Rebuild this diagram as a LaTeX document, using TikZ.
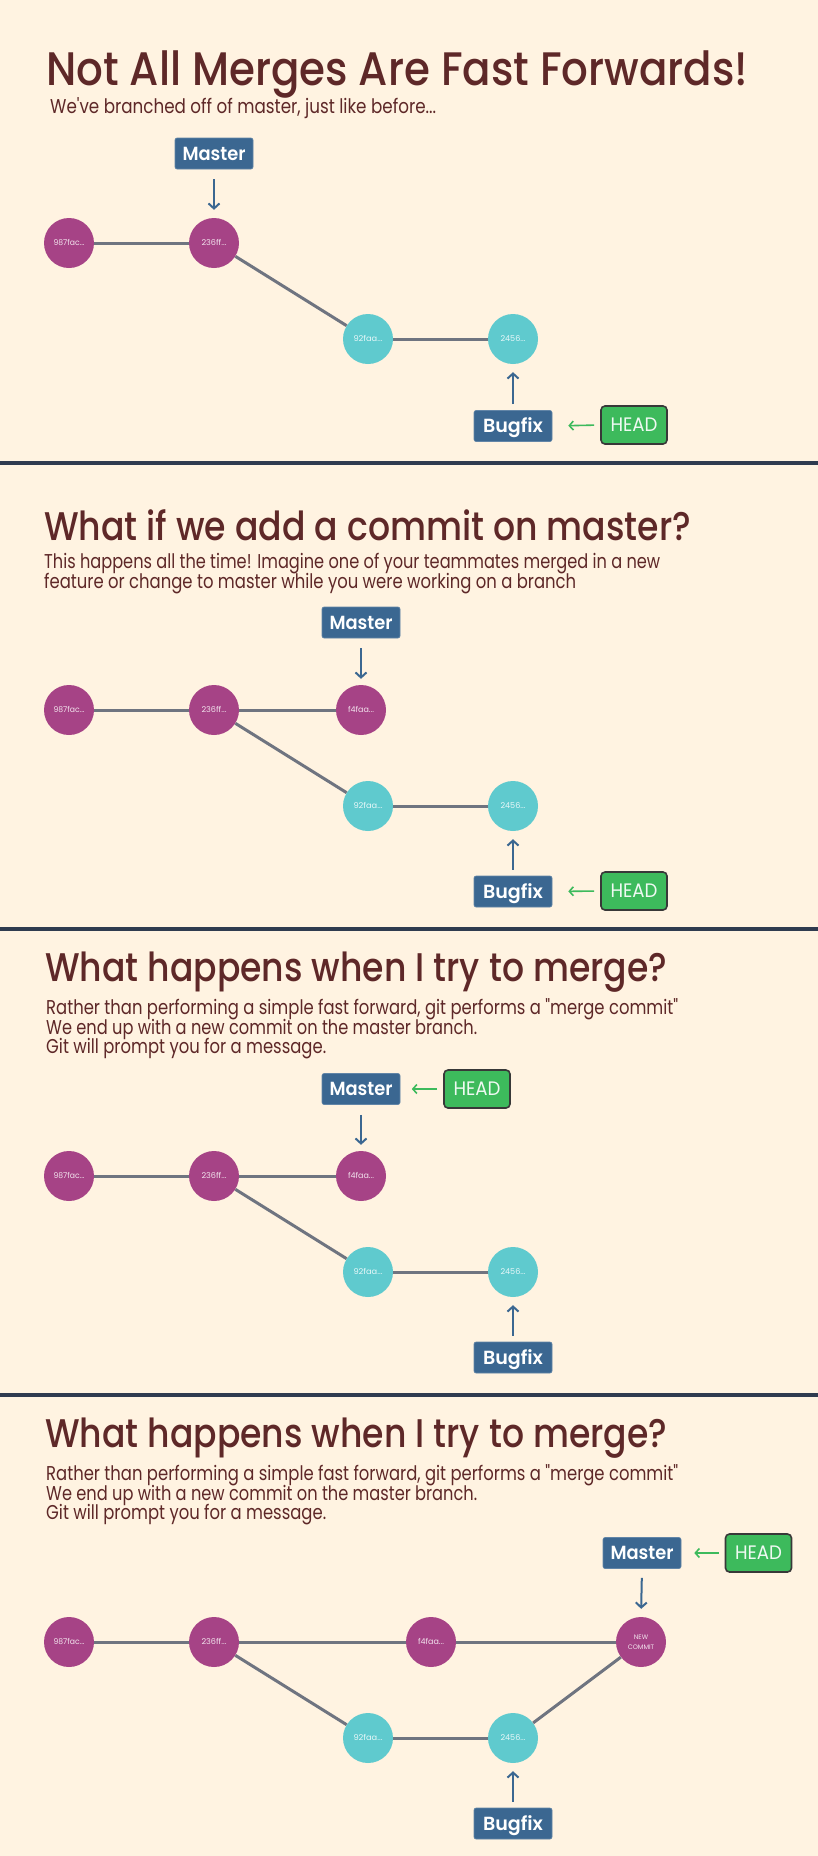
\documentclass[tikz,border=0pt]{standalone}
\usepackage{fontspec}
\setmainfont{Poppins}[Ligatures=TeXOff]
\newfontfamily\pmed{Poppins Medium}
\newfontfamily\psemi{Poppins SemiBold}
\usetikzlibrary{arrows.meta}
\definecolor{bg}{HTML}{FFF3E1}
\definecolor{txtbrown}{HTML}{5E2828}
\definecolor{pcol}{HTML}{A64386}
\definecolor{ccol}{HTML}{5FCACE}
\definecolor{ecol}{HTML}{6F7480}
\definecolor{bcol}{HTML}{3B6791}
\definecolor{gcol}{HTML}{3DBA5C}
\definecolor{sepcol}{HTML}{2F3B4F}
\newlength\fitlen
\newcommand\fitw[3]{\settowidth\fitlen{#2#3}\pgfmathsetmacro\fitr{#1/\fitlen}\scalebox{\fitr}[1]{#2#3}}
\newcommand\ttlfont{\pmed\fontsize{40}{40}\selectfont}
\newcommand\bodyfont{\fontsize{20}{20}\selectfont}
\newcommand\clab[2]{\fitw{#1}{\fontsize{8}{8}\selectfont}{#2}}
\newcommand\masterlab{\fitw{63}{\psemi\fontsize{19}{19}\selectfont}{Master}}
\newcommand\buglab{\fitw{60}{\psemi\fontsize{19}{19}\selectfont}{Bugfix}}
\newcommand\headlab{\fitw{47}{\fontsize{19.5}{19.5}\selectfont}{HEAD}}
\tikzset{
 pc/.style={circle, fill=pcol, minimum size=50pt, inner sep=0pt, text=white!85!pcol, text height=5.6pt, text depth=0pt},
 cc/.style={circle, fill=ccol, minimum size=50pt, inner sep=0pt, text=white!85!ccol, text height=5.6pt, text depth=0pt},
 newc/.style={circle, fill=pcol, minimum size=50pt, inner sep=0pt, text=white!85!pcol, align=center, font=\fontsize{6.5}{10.5}\selectfont},
 edge/.style={draw=ecol, line width=3pt},
 brbox/.style={fill=bcol, draw=bcol!80!white, line width=0.6pt, rounded corners=2pt, minimum width=78pt, minimum height=31pt, inner sep=0pt, text=white, text height=13.3pt, text depth=0pt},
 headbox/.style={fill=gcol, draw=black!78, line width=1.6pt, rounded corners=4pt, minimum width=66pt, minimum height=38pt, inner sep=0pt, text=white!92!gcol, text height=13.7pt, text depth=0pt},
 barrow/.style={draw=bcol, line width=2pt, -{Straight Barb[length=5pt,width=11pt]}},
 garrow/.style={draw=gcol, line width=1.6pt, -{Straight Barb[length=4pt,width=9pt]}},
 txt/.style={anchor=base west, inner sep=0pt, text=txtbrown},
 sepline/.style={draw=sepcol, line width=4pt},
}
\begin{document}
\begin{tikzpicture}[x=1pt,y=-1pt]
\fill[bg] (0,0) rectangle (818,1856);
\useasboundingbox (0,0) rectangle (818,1856);

% ---------------- Section 1 ----------------
\node[txt] (t1) at (46,85) {\fitw{702}{\pmed\fontsize{47}{47}\selectfont}{Not All Merges Are Fast Forwards!}};
\node[txt] (s1) at (50,113) {\fitw{386}{\bodyfont}{We've branched off of master, just like before...}};
\node[brbox] (m1) at (214,153.5) {\masterlab};
\node[pc] (a1) at (69,243) {\clab{31}{987fac...}};
\node[pc] (b1) at (214,243) {\clab{25}{236ff...}};
\node[cc] (c1) at (368,339) {\clab{29}{92faa...}};
\node[cc] (d1) at (513,339) {\clab{25}{2456...}};
\node[brbox] (g1) at (513,426) {\buglab};
\node[headbox] (h1) at (634,425) {\headlab};
\draw[edge] (a1) -- (b1);
\draw[edge] (b1) -- (c1);
\draw[edge] (c1) -- (d1);
\draw[barrow, shorten <=10pt, shorten >=8pt] (m1.south) -- (b1.north);
\draw[barrow, shorten <=6pt, shorten >=8pt] (g1.north) -- (d1.south);
\draw[garrow, shorten <=6pt, shorten >=16pt] (h1.west) -- (g1.east);
\draw[sepline] (0,463) -- (818,463);

% ---------------- Section 2 ----------------
\node[txt] (t2) at (44,540) {\fitw{647}{\ttlfont}{What if we add a commit on master?}};
\node[txt] (s2a) at (44,568) {\fitw{616}{\bodyfont}{This happens all the time! Imagine one of your teammates merged in a new}};
\node[txt] (s2b) at (44,588) {\fitw{532}{\bodyfont}{feature or change to master while you were working on a branch}};
\node[brbox] (m2) at (361,622.5) {\masterlab};
\node[pc] (a2) at (69,710) {\clab{31}{987fac...}};
\node[pc] (b2) at (214,710) {\clab{25}{236ff...}};
\node[pc] (f2) at (361,710) {\clab{26}{f4faa...}};
\node[cc] (c2) at (368,806) {\clab{29}{92faa...}};
\node[cc] (d2) at (513,806) {\clab{25}{2456...}};
\node[brbox] (g2) at (513,891.5) {\buglab};
\node[headbox] (h2) at (634,891) {\headlab};
\draw[edge] (a2) -- (b2);
\draw[edge] (b2) -- (f2);
\draw[edge] (b2) -- (c2);
\draw[edge] (c2) -- (d2);
\draw[barrow, shorten <=10pt, shorten >=6pt] (m2.south) -- (f2.north);
\draw[barrow, shorten <=6pt, shorten >=8pt] (g2.north) -- (d2.south);
\draw[garrow, shorten <=6pt, shorten >=16pt] (h2.west) -- (g2.east);
\draw[sepline] (0,929) -- (818,929);

% ---------------- Section 3 ----------------
\node[txt] (t3) at (45,981) {\fitw{622}{\ttlfont}{What happens when I try to merge?}};
\node[txt] (s3a) at (46,1014) {\fitw{632}{\bodyfont}{Rather than performing a simple fast forward, git performs a "merge commit"}};
\node[txt] (s3b) at (46,1034) {\fitw{431}{\bodyfont}{We end up with a new commit on the master branch.}};
\node[txt] (s3c) at (46,1053) {\fitw{280}{\bodyfont}{Git will prompt you for a message.}};
\node[brbox] (m3) at (361,1089) {\masterlab};
\node[headbox] (h3) at (477,1089) {\headlab};
\node[pc] (a3) at (69,1176) {\clab{31}{987fac...}};
\node[pc] (b3) at (214,1176) {\clab{25}{236ff...}};
\node[pc] (f3) at (361,1176) {\clab{26}{f4faa...}};
\node[cc] (c3) at (368,1272) {\clab{29}{92faa...}};
\node[cc] (d3) at (513,1272) {\clab{25}{2456...}};
\node[brbox] (g3) at (513,1357.5) {\buglab};
\draw[edge] (a3) -- (b3);
\draw[edge] (b3) -- (f3);
\draw[edge] (b3) -- (c3);
\draw[edge] (c3) -- (d3);
\draw[barrow, shorten <=10pt, shorten >=6pt] (m3.south) -- (f3.north);
\draw[barrow, shorten <=6pt, shorten >=8pt] (g3.north) -- (d3.south);
\draw[garrow, shorten <=6pt, shorten >=11.5pt] (h3.west) -- (m3.east);
\draw[sepline] (0,1395) -- (818,1395);

% ---------------- Section 4 ----------------
\node[txt] (t4) at (45,1447) {\fitw{622}{\ttlfont}{What happens when I try to merge?}};
\node[txt] (s4a) at (46,1480) {\fitw{632}{\bodyfont}{Rather than performing a simple fast forward, git performs a "merge commit"}};
\node[txt] (s4b) at (46,1500) {\fitw{431}{\bodyfont}{We end up with a new commit on the master branch.}};
\node[txt] (s4c) at (46,1519) {\fitw{280}{\bodyfont}{Git will prompt you for a message.}};
\node[brbox] (m4) at (642,1553) {\masterlab};
\node[headbox] (h4) at (758.5,1553) {\headlab};
\node[pc] (a4) at (69,1642) {\clab{31}{987fac...}};
\node[pc] (b4) at (214,1642) {\clab{25}{236ff...}};
\node[pc] (f4) at (431,1642) {\clab{26}{f4faa...}};
\node[newc] (n4) at (641,1642) {NEW\\COMMIT};
\node[cc] (c4) at (368,1738) {\clab{29}{92faa...}};
\node[cc] (d4) at (513,1738) {\clab{25}{2456...}};
\node[brbox] (g4) at (513,1823.5) {\buglab};
\draw[edge] (a4) -- (b4);
\draw[edge] (b4) -- (f4);
\draw[edge] (f4) -- (n4);
\draw[edge] (b4) -- (c4);
\draw[edge] (c4) -- (d4);
\draw[edge] (d4) -- (n4);
\draw[barrow, shorten <=9pt, shorten >=8pt] (m4.south) -- (n4.north);
\draw[barrow, shorten <=6pt, shorten >=8pt] (g4.north) -- (d4.south);
\draw[garrow, shorten <=6pt, shorten >=13pt] (h4.west) -- (m4.east);
\end{tikzpicture}
\end{document}
